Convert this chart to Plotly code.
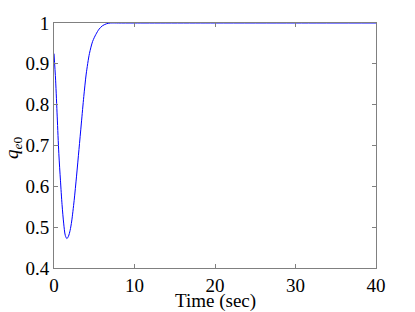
import plotly.graph_objects as go

time_s = [0, 0.2, 0.4, 0.6, 0.8, 1.0, 1.2, 1.4, 1.6, 1.8, 2.0, 2.2, 2.5, 2.8, 3.1, 3.4,
          3.7, 4.0, 4.4, 4.8, 5.2, 5.6, 6.0, 6.5, 7.0, 8.0, 10.0, 20.0, 30.0, 40.0]
q_e0 = [0.925, 0.86, 0.77, 0.68, 0.615, 0.555, 0.51, 0.48, 0.472, 0.478, 0.492, 0.515,
        0.565, 0.625, 0.69, 0.755, 0.82, 0.875, 0.925, 0.955, 0.972, 0.985, 0.993, 0.998,
        1.0, 1.0, 1.0, 1.0, 1.0, 1.0]

x_ticks = [0, 10, 20, 30, 40]
y_ticks = [0.4, 0.5, 0.6, 0.7, 0.8, 0.9, 1.0]
y_tick_text = ["0.4", "0.5", "0.6", "0.7", "0.8", "0.9", "1"]
x_title = "Time (sec)"
y_title = "<i>q</i><sub><i>e</i>0</sub>"

FONT = "Liberation Serif, Times New Roman, DejaVu Serif, serif"
L, R, T, B, W, H = 54, 39, 23, 44, 415, 312
PW, PH = W - L - R, H - T - B

fig = go.Figure()
fig.add_trace(go.Scatter(x=time_s, y=q_e0, mode="lines",
                         line=dict(color="#0000ff", width=1, shape="spline", smoothing=0.8)))

axis_common = dict(showline=True, linecolor="#808080", linewidth=1, mirror="ticks",
                   ticks="inside", ticklen=4, tickcolor="#808080", showgrid=False,
                   zeroline=False, automargin=False,
                   tickfont=dict(family=FONT, size=19, color="black"))

fig.update_layout(
    width=W, height=H,
    margin=dict(l=L, r=R, t=T, b=B, autoexpand=False),
    paper_bgcolor="white", plot_bgcolor="white",
    showlegend=False,
    font=dict(family=FONT),
    xaxis=dict(range=[0, 40], tickvals=x_ticks, ticktext=[str(v) for v in x_ticks],
               **axis_common),
    yaxis=dict(range=[0.4, 1.0], tickvals=y_ticks, ticktext=y_tick_text,
               **axis_common),
    annotations=[
        dict(text=x_title, xref="paper", yref="paper", x=0.5, y=-(301 - (H - B)) / PH,
             xanchor="center", yanchor="middle", showarrow=False,
             font=dict(family=FONT, size=19, color="black")),
        dict(text=y_title, xref="paper", yref="paper", x=(13 - L) / PW, y=(H - B - 148) / PH,
             xanchor="center", yanchor="middle", showarrow=False, textangle=-90,
             font=dict(family=FONT, size=19, color="black")),
    ],
)

fig.write_html("out.html", config={"displayModeBar": False},
               post_script="document.body.style.margin='0';document.body.style.overflow='hidden';")
